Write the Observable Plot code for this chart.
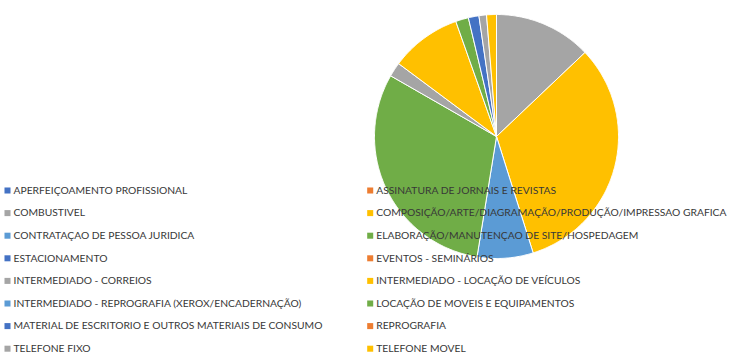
<!DOCTYPE html>
<html>
<head>
<meta charset="utf-8">
<script src="https://cdn.jsdelivr.net/npm/d3@7"></script>
<script src="https://cdn.jsdelivr.net/npm/@observablehq/plot@0.6"></script>
<style>
  html, body { margin: 0; padding: 0; background: #fff; }
  #chart svg { display: block; }
</style>
</head>
<body>
<div id="chart"></div>
<script>
const categories = [
  "APERFEIÇOAMENTO PROFISSIONAL",
  "ASSINATURA DE JORNAIS E REVISTAS",
  "COMBUSTIVEL",
  "COMPOSIÇÃO/ARTE/DIAGRAMAÇÃO/PRODUÇÃO/IMPRESSAO GRAFICA",
  "CONTRATAÇAO DE PESSOA JURIDICA",
  "ELABORAÇÃO/MANUTENÇAO DE SITE/HOSPEDAGEM",
  "ESTACIONAMENTO",
  "EVENTOS - SEMINÁRIOS",
  "INTERMEDIADO - CORREIOS",
  "INTERMEDIADO - LOCAÇÃO DE VEÍCULOS",
  "INTERMEDIADO - REPROGRAFIA (XEROX/ENCADERNAÇÃO)",
  "LOCAÇÃO DE MOVEIS E EQUIPAMENTOS",
  "MATERIAL DE ESCRITORIO E OUTROS MATERIAIS DE CONSUMO",
  "REPROGRAFIA",
  "TELEFONE FIXO",
  "TELEFONE MOVEL"
];
const values = [0, 0, 12.9, 32.2, 7.4, 30.7, 0, 0, 1.9, 9.4, 0, 1.7, 1.4, 0, 1.0, 1.3];
const palette = ["#4472C4", "#ED7D31", "#A5A5A5", "#FFC000", "#5B9BD5", "#70AD47"];

const W = 746, H = 356;
const cx = 496, cy = 136, R = 122;

const arcs = d3.pie().sort(null).value(d => d)(values);
const sliceRows = [];
arcs.forEach((a, i) => {
  if (a.endAngle - a.startAngle <= 0) return;
  const color = palette[i % palette.length];
  const cat = categories[i];
  sliceRows.push({cat, color, x: cx, y: cy});
  const n = Math.max(2, Math.ceil((a.endAngle - a.startAngle) / 0.01));
  for (let k = 0; k <= n; k++) {
    const t = a.startAngle + (a.endAngle - a.startAngle) * k / n;
    sliceRows.push({cat, color, x: cx + R * Math.sin(t), y: cy - R * Math.cos(t)});
  }
  sliceRows.push({cat, color, x: cx, y: cy});
});

const legendRows = categories.map((c, i) => ({
  cat: c,
  color: palette[i % palette.length],
  col: i % 2,
  row: Math.floor(i / 2)
}));
const legX = col => col === 0 ? 7 : 369.7;
const legY = row => 190 + row * 22.6;

const chart = Plot.plot({
  width: W,
  height: H,
  margin: 0,
  x: {type: "identity", axis: null},
  y: {type: "identity", axis: null},
  color: {type: "identity"},
  style: {background: "#fff"},
  marks: [
    Plot.line(sliceRows, {x: "x", y: "y", z: "cat", fill: "color", stroke: "#fff", strokeWidth: 1, curve: "linear"}),
    Plot.dot(legendRows, {x: d => legX(d.col), y: d => legY(d.row), symbol: "square", r: 3.4, fill: "color", stroke: null}),
    Plot.text(legendRows, {
      x: d => legX(d.col) + 6,
      y: d => legY(d.row),
      text: "cat",
      textAnchor: "start",
      fill: "#383838",
      fontSize: 10.3,
      fontFamily: "Lato"
    })
  ]
});
document.getElementById("chart").appendChild(chart);
</script>
</body>
</html>
